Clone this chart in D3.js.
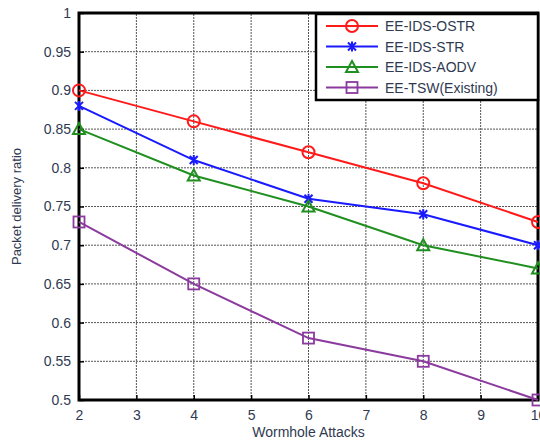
<!DOCTYPE html>
<html>
<head>
<meta charset="utf-8">
<script src="https://cdn.jsdelivr.net/npm/d3@7"></script>
<style>
  body { margin: 0; background: #fff; }
  text { font-family: "Liberation Sans", Arial, sans-serif; fill: #2f3a52; }
</style>
</head>
<body>
<div id="chart"></div>
<script>
const attacks = [2, 4, 6, 8, 10];
const seriesNames = ["EE-IDS-OSTR", "EE-IDS-STR", "EE-IDS-AODV", "EE-TSW(Existing)"];
const ostr = [0.90, 0.86, 0.82, 0.78, 0.73];
const str = [0.88, 0.81, 0.76, 0.74, 0.70];
const aodv = [0.85, 0.79, 0.75, 0.70, 0.67];
const tsw = [0.73, 0.65, 0.58, 0.55, 0.50];
const xTicks = [2, 3, 4, 5, 6, 7, 8, 9, 10];
const yTicks = [0.5, 0.55, 0.6, 0.65, 0.7, 0.75, 0.8, 0.85, 0.9, 0.95, 1];

const colors = ["#ff1a1a", "#1a1aff", "#1f8f1f", "#8b3a9e"];
const markers = ["circle", "star", "triangle", "square"];
const allSeries = [ostr, str, aodv, tsw];

const width = 540, height = 441;
const margin = { left: 79, right: 2, top: 13, bottom: 41 };

const svg = d3.select("#chart").append("svg")
    .attr("width", width)
    .attr("height", height);

const x = d3.scaleLinear().domain([2, 10]).range([margin.left, width - margin.right]);
const y = d3.scaleLinear().domain([0.5, 1]).range([height - margin.bottom, margin.top]);

// grid
const grid = svg.append("g");
grid.selectAll(".gx").data(xTicks).enter().append("line")
    .attr("x1", d => x(d)).attr("x2", d => x(d))
    .attr("y1", y(0.5)).attr("y2", y(1))
    .attr("stroke", "#555").attr("stroke-width", 1).attr("stroke-dasharray", "2,1");
grid.selectAll(".gy").data(yTicks).enter().append("line")
    .attr("x1", x(2)).attr("x2", x(10))
    .attr("y1", d => y(d)).attr("y2", d => y(d))
    .attr("stroke", "#555").attr("stroke-width", 1).attr("stroke-dasharray", "2,1");

// axes
const xAxis = svg.append("g")
    .attr("transform", `translate(0,${y(0.5)})`)
    .call(d3.axisBottom(x).tickValues(xTicks).tickFormat(d3.format("d")).tickSizeInner(-5).tickSizeOuter(0).tickPadding(10));
xAxis.select(".domain").remove();
xAxis.selectAll("line").attr("stroke", "#000").attr("stroke-width", 1.5);
xAxis.selectAll("text").style("font-size", "14px").style("fill", "#2f3a52");

const yAxis = svg.append("g")
    .attr("transform", `translate(${x(2)},0)`)
    .call(d3.axisLeft(y).tickValues(yTicks).tickFormat(d => d3.format("")(+d.toFixed(2))).tickSizeInner(-5).tickSizeOuter(0).tickPadding(8));
yAxis.select(".domain").remove();
yAxis.selectAll("line").attr("stroke", "#000").attr("stroke-width", 1.5);
yAxis.selectAll("text").style("font-size", "14px").style("fill", "#2f3a52");

// box
svg.append("rect")
    .attr("x", x(2)).attr("y", y(1))
    .attr("width", x(10) - x(2)).attr("height", y(0.5) - y(1))
    .attr("fill", "none").attr("stroke", "#000").attr("stroke-width", 3);

function drawMarker(g, type, color) {
    if (type === "circle") {
        g.append("circle").attr("r", 6).attr("fill", "none").attr("stroke", color).attr("stroke-width", 2);
    } else if (type === "star") {
        g.append("path").attr("d", "M-4,-4L4,4M-4,4L4,-4M0,-5L0,5")
            .attr("stroke", color).attr("stroke-width", 2).attr("fill", "none");
    } else if (type === "triangle") {
        g.append("path").attr("d", "M0,-6L6,5L-6,5Z")
            .attr("fill", "none").attr("stroke", color).attr("stroke-width", 2);
    } else {
        g.append("rect").attr("x", -5.5).attr("y", -5.5).attr("width", 11).attr("height", 11)
            .attr("fill", "none").attr("stroke", color).attr("stroke-width", 1.8);
    }
}

const line = d3.line().x((d, i) => x(attacks[i])).y(d => y(d));

allSeries.forEach((vals, k) => {
    const g = svg.append("g");
    g.append("path").datum(vals)
        .attr("d", line)
        .attr("fill", "none")
        .attr("stroke", colors[k])
        .attr("stroke-width", 2);
    vals.forEach((v, i) => {
        const m = g.append("g").attr("transform", `translate(${x(attacks[i])},${y(v)})`);
        drawMarker(m, markers[k], colors[k]);
    });
});

// legend
const lg = svg.append("g").attr("transform", "translate(316,14)");
lg.append("rect").attr("width", 222).attr("height", 86)
    .attr("fill", "#fff").attr("stroke", "#000").attr("stroke-width", 2.5);
seriesNames.forEach((name, k) => {
    const row = lg.append("g").attr("transform", `translate(0,${12 + k * 20.5})`);
    row.append("line").attr("x1", 10).attr("x2", 62).attr("y1", 0).attr("y2", 0)
        .attr("stroke", colors[k]).attr("stroke-width", 2);
    drawMarker(row.append("g").attr("transform", "translate(36,0)"), markers[k], colors[k]);
    row.append("text").attr("x", 69).attr("y", 5)
        .style("font-size", "14px").text(name);
});

// labels
svg.append("text")
    .attr("x", (x(2) + x(10)) / 2).attr("y", 437)
    .attr("text-anchor", "middle")
    .style("font-size", "14px")
    .text("Wormhole Attacks");

svg.append("text")
    .attr("transform", `translate(21,${(y(0.5) + y(1)) / 2}) rotate(-90)`)
    .attr("text-anchor", "middle")
    .style("font-size", "13px")
    .text("Packet delivery ratio");
</script>
</body>
</html>
